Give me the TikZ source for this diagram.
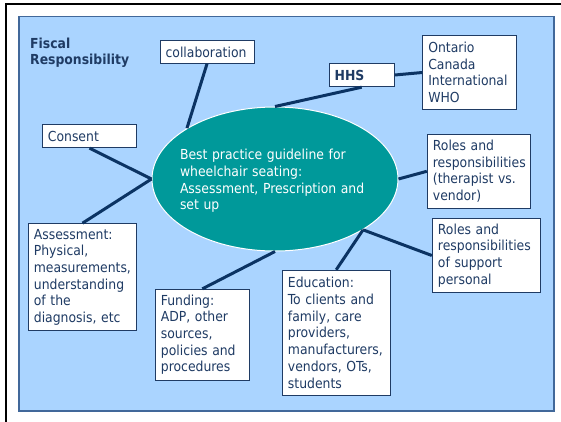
\documentclass[tikz,border=0pt]{standalone}
\usepackage{fontspec}
\setmainfont{DejaVu Sans Condensed}
\usetikzlibrary{shapes.geometric}

\definecolor{panelblue}{HTML}{AAD4FF}
\definecolor{panelline}{HTML}{41689A}
\definecolor{boxline}{HTML}{1F3B64}
\definecolor{navytext}{HTML}{1F3B64}
\definecolor{linkblue}{HTML}{0B3363}
\definecolor{guideteal}{HTML}{00999A}

\tikzset{
    every node/.style={font=\fontsize{13.8}{16.7}\selectfont},
    infobox/.style={draw=boxline, line width=1pt, fill=white, text=navytext,
        align=left, inner xsep=5.6pt, inner ysep=0pt},
    link/.style={draw=linkblue, line width=3pt}
}

\begin{document}
\begin{tikzpicture}[x=1pt,y=-1pt]
        \useasboundingbox (0,0) rectangle (561,422);
        % frame and panel
        \draw[line width=2.3pt] (6.2,422) -- (6.2,4.2) -- (561,4.2);
        \draw[panelline, fill=panelblue, line width=1.2pt] (19,16.7) rectangle (554,411);

        \node[anchor=north west, inner sep=0, align=left, text=navytext,
            font=\bfseries\fontsize{13.8}{16.7}\selectfont] (fiscal) at (30,37.5) {Fiscal\\Responsibility};

        % centre ellipse
        \node[ellipse, draw=white, line width=1pt, fill=guideteal, inner sep=0,
            minimum width=246pt, minimum height=144pt] (guide) at (275,179) {};
        \node[text=white, align=left, text width=190pt, inner sep=0] (guidetext) at (275,181)
            {Best practice guideline for\\wheelchair seating:\\Assessment, Prescription and\\set up};

        % boxes
        \node[infobox, text width=82.8pt, minimum height=22.6pt] (collab) at (207,52) {collaboration};
        \node[infobox, text width=54.1pt, minimum height=23.4pt, font=\bfseries\fontsize{13.8}{16.7}\selectfont] (hhs) at (361.7,75) {HHS};
        \node[infobox, text width=82.8pt, minimum height=73.6pt] (ontario) at (469.7,72.5) {Ontario\\Canada\\International\\WHO};
        \node[infobox, text width=83.2pt, minimum height=22.7pt] (consent) at (89.5,136.3) {Consent};
        \node[infobox, text width=92.2pt, minimum height=74pt] (roles) at (479,171.3) {Roles and\\responsibilities\\(therapist vs.\\vendor)};
        \node[infobox, text width=96.5pt, minimum height=74.4pt] (support) at (486.2,255.5) {Roles and\\responsibilities\\of support\\personal};
        \node[infobox, text width=97.2pt, minimum height=107.3pt] (assess) at (82.5,277.3) {Assessment:\\Physical,\\measurements,\\understanding\\of the\\diagnosis, etc};
        \node[infobox, text width=82.8pt, minimum height=90.7pt] (funding) at (202.3,334.7) {Funding:\\ADP, other\\sources,\\policies and\\procedures};
        \node[infobox, text width=96.5pt, minimum height=125pt] (educ) at (336.2,332.8) {Education:\\To clients and\\family, care\\providers,\\manufacturers,\\vendors, OTs,\\students};

        % connectors
        \foreach \a/\b in {collab.south/guide.150, hhs.south/guide.north, hhs.east/ontario.west,
            consent.south/guide.west, assess.north/guide.west, roles.west/guide.east,
            support.west/guide.-30, educ.north/guide.-30, funding.north/guide.south} {
            \draw[link] (\a) -- (\b);
        }
\end{tikzpicture}
\end{document}
